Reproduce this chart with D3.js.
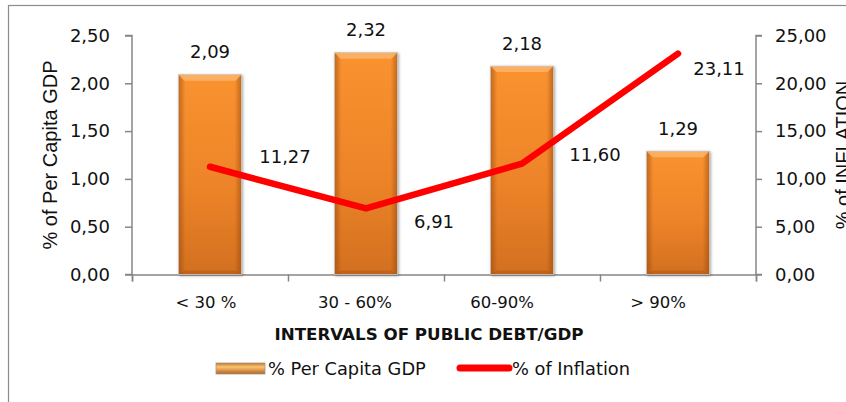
<!DOCTYPE html>
<html>
<head>
<meta charset="utf-8">
<script src="https://cdn.jsdelivr.net/npm/d3@7"></script>
<style>
  html, body { margin: 0; padding: 0; background: #fff; }
  svg { display: block; }
</style>
</head>
<body>
<script>
// ---- data ----
const categories = ["< 30 %", "30 - 60%", "60-90%", "> 90%"];
const gdpValues = [2.09, 2.32, 2.18, 1.29];
const inflationValues = [11.27, 6.91, 11.60, 23.11];
const leftTicks = [0, 0.5, 1, 1.5, 2, 2.5];
const rightTicks = [0, 5, 10, 15, 20, 25];
const seriesNames = ["% Per Capita GDP", "% of Inflation"];
const xTitle = "INTERVALS OF PUBLIC DEBT/GDP";
const yLeftTitle = "% of Per Capita GDP";
const yRightTitle = "% of INFLATION";

// label nudges (style, not data)
const lineLabelDx = [75, 68, 73, 41];
const lineLabelDy = [-10, 13, -9, 15];
const catLabelDx = [-4, -11, -20, -20];

const W = 846, H = 402;
const fmt = v => d3.format(".2f")(v).replace(".", ",");
const tickFont = "'DejaVu Sans', Verdana, sans-serif";
const titleFont = "'Liberation Sans', Arial, sans-serif";

const svg = d3.select("body").append("svg").attr("width", W).attr("height", H);

const defs = svg.append("defs");
const g1 = defs.append("linearGradient").attr("id", "barGrad").attr("x1", 0).attr("y1", 0).attr("x2", 0).attr("y2", 1);
g1.append("stop").attr("offset", "0%").attr("stop-color", "#F9922F");
g1.append("stop").attr("offset", "55%").attr("stop-color", "#EE8429");
g1.append("stop").attr("offset", "100%").attr("stop-color", "#D2701F");
const g2 = defs.append("linearGradient").attr("id", "barSide").attr("x1", 0).attr("y1", 0).attr("x2", 1).attr("y2", 0);
g2.append("stop").attr("offset", "0%").attr("stop-color", "#8a3e08").attr("stop-opacity", 0.5);
g2.append("stop").attr("offset", "11%").attr("stop-color", "#8a3e08").attr("stop-opacity", 0.0);
g2.append("stop").attr("offset", "89%").attr("stop-color", "#8a3e08").attr("stop-opacity", 0.0);
g2.append("stop").attr("offset", "100%").attr("stop-color", "#8a3e08").attr("stop-opacity", 0.5);
const lg = defs.append("linearGradient").attr("id", "legGrad").attr("x1", 0).attr("y1", 0).attr("x2", 0).attr("y2", 1);
lg.append("stop").attr("offset", "0%").attr("stop-color", "#c7741f");
lg.append("stop").attr("offset", "35%").attr("stop-color", "#fbc476");
lg.append("stop").attr("offset", "100%").attr("stop-color", "#b8621c");
const sh = defs.append("filter").attr("id", "shadow").attr("x", "-20%").attr("y", "-20%").attr("width", "140%").attr("height", "140%");
sh.append("feGaussianBlur").attr("in", "SourceAlpha").attr("stdDeviation", 1.5).attr("result", "b");
sh.append("feOffset").attr("in", "b").attr("dx", 1).attr("dy", 1).attr("result", "o");
sh.append("feComponentTransfer").attr("in", "o").attr("result", "o2")
  .append("feFuncA").attr("type", "linear").attr("slope", 0.35);
const mg = sh.append("feMerge");
mg.append("feMergeNode").attr("in", "o2");
mg.append("feMergeNode").attr("in", "SourceGraphic");

// outer border
svg.append("rect").attr("x", 8.5).attr("y", 5.5).attr("width", 900).attr("height", 500)
  .attr("fill", "none").attr("stroke", "#8c8c8c").attr("stroke-width", 1.2);

const plotL = 132, plotR = 756, plotT = 35.5, plotB = 274.5;

const x = d3.scaleBand().domain(categories).range([plotL, plotR]).paddingInner(0.596).paddingOuter(0.298);
const xPoint = c => x(c) + x.bandwidth() / 2;
const yL = d3.scaleLinear().domain([0, 2.5]).range([plotB, plotT]);
const yR = d3.scaleLinear().domain([0, 25]).range([plotB, plotT]);

const axisColor = "#868686";

// left axis
const la = svg.append("g").attr("transform", `translate(${plotL},0)`)
  .call(d3.axisLeft(yL).tickValues(leftTicks).tickSize(7).tickPadding(15).tickFormat(fmt));
// right axis
const ra = svg.append("g").attr("transform", `translate(${plotR},0)`)
  .call(d3.axisRight(yR).tickValues(rightTicks).tickSize(6).tickPadding(13).tickFormat(fmt));
// bottom axis: ticks at category boundaries
const boundaries = categories.map(c => x(c) - x.step() * x.paddingInner() / 2).concat([plotR]);
const xb = d3.scaleLinear().domain([plotL, plotR]).range([plotL, plotR]);
const ba = svg.append("g").attr("transform", `translate(0,${plotB})`)
  .call(d3.axisBottom(xb).tickValues(boundaries).tickSize(7).tickFormat(""));

[la, ra, ba].forEach(a => {
  a.select(".domain").attr("stroke", axisColor).attr("stroke-width", 1.5);
  a.selectAll(".tick line").attr("stroke", axisColor).attr("stroke-width", 1.5);
  a.selectAll(".tick text").attr("font-family", tickFont).attr("font-size", 18).attr("fill", "#111");
});
la.select(".domain").attr("d", `M-7,${plotT}H0V${plotB}H-7`);
ra.select(".domain").attr("d", `M6,${plotT}H0V${plotB}H6`);

// category labels
svg.append("g").selectAll("text").data(categories).join("text")
  .attr("x", (d, i) => xPoint(d) + catLabelDx[i]).attr("y", 307.5)
  .attr("text-anchor", "middle").attr("font-family", tickFont).attr("font-size", 16.5).attr("fill", "#111")
  .text(d => d);

// bars
const bars = svg.append("g").selectAll("g").data(gdpValues).join("g")
  .attr("filter", "url(#shadow)");
bars.each(function (v, i) {
  const gg = d3.select(this);
  const bx = x(categories[i]), bw = x.bandwidth();
  const by = yL(v), bh = yL(0) - yL(v);
  const inset = 6;
  gg.append("rect").attr("x", bx).attr("y", by).attr("width", bw).attr("height", bh).attr("fill", "url(#barGrad)");
  gg.append("rect").attr("x", bx).attr("y", by).attr("width", bw).attr("height", bh).attr("fill", "url(#barSide)");
  // top bevel (light)
  gg.append("polygon")
    .attr("points", [[bx, by], [bx + bw, by], [bx + bw - inset, by + inset], [bx + inset, by + inset]].map(p => p.join(",")).join(" "))
    .attr("fill", "#FDB468").attr("opacity", 0.85);
  // bottom bevel (dark)
  gg.append("polygon")
    .attr("points", [[bx, by + bh], [bx + bw, by + bh], [bx + bw - inset, by + bh - 4], [bx + inset, by + bh - 4]].map(p => p.join(",")).join(" "))
    .attr("fill", "#B45A17").attr("opacity", 0.6);
  gg.append("rect").attr("x", bx).attr("y", by).attr("width", bw).attr("height", bh)
    .attr("fill", "none").attr("stroke", "#c9c9c9").attr("stroke-width", 0.8);
});

// bar labels
svg.append("g").selectAll("text").data(gdpValues).join("text")
  .attr("x", (d, i) => xPoint(categories[i])).attr("y", d => yL(d) - 16.5)
  .attr("text-anchor", "middle").attr("font-family", tickFont).attr("font-size", 18).attr("fill", "#111")
  .text(d => fmt(d));

// inflation line
const line = d3.line().x((d, i) => xPoint(categories[i])).y(d => yR(d));
svg.append("path").datum(inflationValues).attr("d", line)
  .attr("fill", "none").attr("stroke", "#FF0000").attr("stroke-width", 6.5)
  .attr("stroke-linecap", "round").attr("stroke-linejoin", "round");

// line labels
svg.append("g").selectAll("text").data(inflationValues).join("text")
  .attr("x", (d, i) => xPoint(categories[i]) + lineLabelDx[i])
  .attr("y", (d, i) => yR(d) + lineLabelDy[i] + 6.5)
  .attr("text-anchor", "middle").attr("font-family", tickFont).attr("font-size", 18).attr("fill", "#111")
  .text(d => fmt(d));

// axis titles
svg.append("text").attr("x", 429).attr("y", 339.5).attr("text-anchor", "middle")
  .attr("font-family", tickFont).attr("font-weight", "bold").attr("font-size", 16.7).attr("fill", "#111")
  .text(xTitle);
svg.append("text").attr("transform", `translate(57,${(plotT + plotB) / 2}) rotate(-90)`)
  .attr("text-anchor", "middle").attr("font-family", titleFont).attr("font-size", 20).attr("fill", "#111")
  .text(yLeftTitle);
svg.append("text").attr("transform", `translate(850,${(plotT + plotB) / 2}) rotate(-90)`)
  .attr("text-anchor", "middle").attr("font-family", titleFont).attr("font-size", 20).attr("fill", "#111")
  .text(yRightTitle);

// legend
const leg = svg.append("g");
leg.append("rect").attr("x", 216).attr("y", 363).attr("width", 49).attr("height", 11)
  .attr("fill", "url(#legGrad)").attr("stroke", "#9a9a9a").attr("stroke-width", 0.8);
leg.append("text").attr("x", 268).attr("y", 374.5).attr("font-family", tickFont).attr("font-size", 17.8).attr("fill", "#111")
  .text(seriesNames[0]);
leg.append("line").attr("x1", 460).attr("x2", 509).attr("y1", 368).attr("y2", 368)
  .attr("stroke", "#FF0000").attr("stroke-width", 7).attr("stroke-linecap", "round");
leg.append("text").attr("x", 512).attr("y", 374.5).attr("font-family", tickFont).attr("font-size", 17.8).attr("fill", "#111")
  .text(seriesNames[1]);
</script>
</body>
</html>
